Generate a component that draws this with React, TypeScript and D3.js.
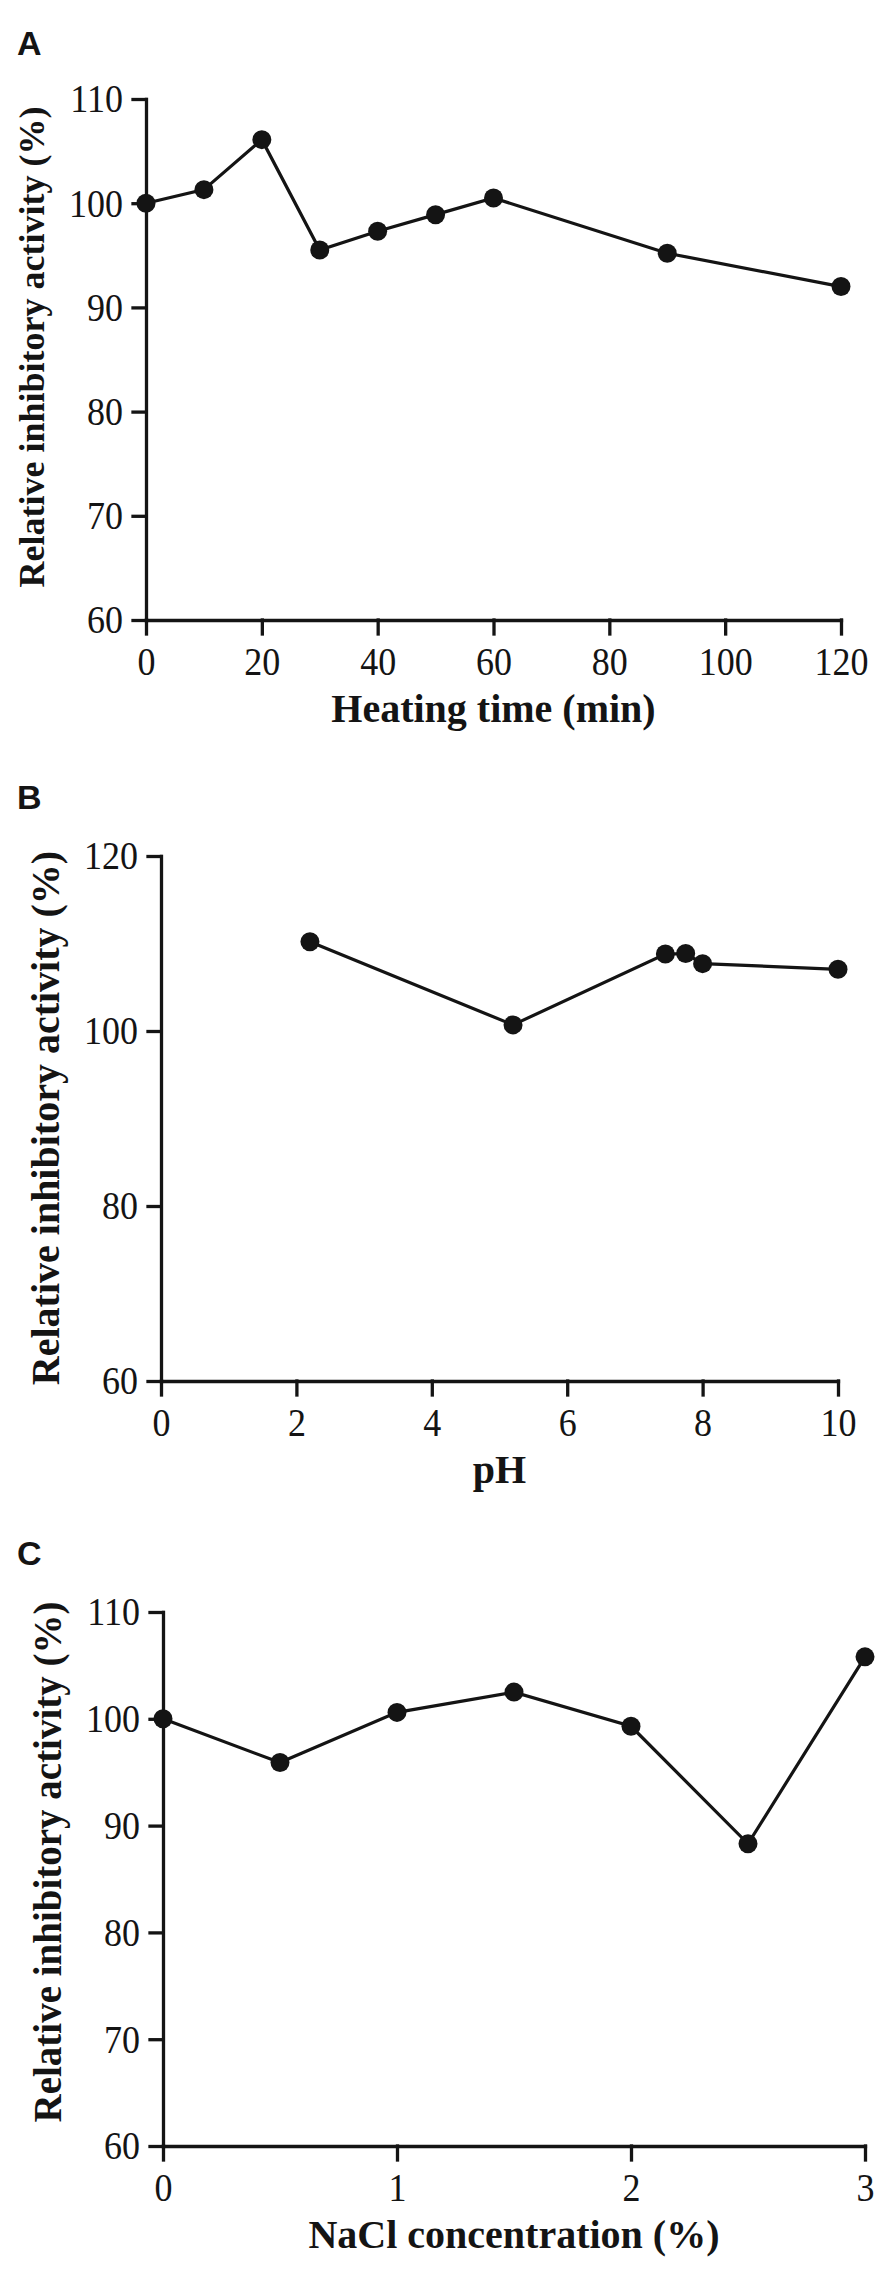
import React, { useRef, useEffect } from "react";
import * as d3 from "d3";

// Panel A: heat stability
const heatingTime = [0, 10, 20, 30, 40, 50, 60, 90, 120];
const heatingActivity = [100, 101.3, 106.1, 95.5, 97.3, 98.9, 100.5, 95.2, 92.0];
const heatingTicksX = [0, 20, 40, 60, 80, 100, 120];
const heatingTicksY = [60, 70, 80, 90, 100, 110];

// Panel B: pH stability
const phValues = [2.2, 5.2, 7.45, 7.75, 8, 10];
const phActivity = [110.2, 100.7, 108.8, 108.85, 107.7, 107.05];
const phTicksX = [0, 2, 4, 6, 8, 10];
const phTicksY = [60, 80, 100, 120];

// Panel C: NaCl stability
const naclConc = [0, 0.5, 1, 1.5, 2, 2.5, 3];
const naclActivity = [100, 95.9, 100.6, 102.5, 99.3, 88.3, 105.8];
const naclTicksX = [0, 1, 2, 3];
const naclTicksY = [60, 70, 80, 90, 100, 110];

const yTitle = "Relative inhibitory activity (%)";
const INK = "#141414";
const SERIF = "'Liberation Serif', 'Times New Roman', serif";
const SQUEEZE = 0.9; // tick digits in the original are a little condensed

type Box = { left: number; right: number; top: number; bottom: number };

type PanelProps = {
    letter: string;
    letterY: number;
    xs: number[];
    ys: number[];
    xTicks: number[];
    yTicks: number[];
    xLabel: string;
    box: Box;
    yTitleSize: number;
    yTitleMid: number;
};

const Panel = ({ letter, letterY, xs, ys, xTicks, yTicks, xLabel, box, yTitleSize, yTitleMid }: PanelProps) => {
    const gRef = useRef<SVGGElement>(null);

    useEffect(() => {
        if (!gRef.current) return;
        const g = d3.select(gRef.current);
        g.selectAll("*").remove();

        const x = d3
            .scaleLinear()
            .domain([xTicks[0], xTicks[xTicks.length - 1]])
            .range([box.left, box.right]);
        const y = d3
            .scaleLinear()
            .domain([yTicks[0], yTicks[yTicks.length - 1]])
            .range([box.bottom, box.top]);

        // panel letter
        g.append("text")
            .attr("x", 17)
            .attr("y", letterY)
            .style("font-family", "'Liberation Sans', Arial, sans-serif")
            .style("font-weight", "bold")
            .style("font-size", "34px")
            .style("fill", INK)
            .text(letter);

        // x axis
        const xg = g.append("g")
            .attr("transform", `translate(0,${box.bottom})`)
            .call(d3.axisBottom(x).tickValues(xTicks).tickSize(14).tickSizeOuter(0).tickPadding(13).tickFormat((d) => `${d}`));
        xg.selectAll(".tick text").attr("transform", `scale(${SQUEEZE},1)`);

        // y axis
        const yg = g.append("g")
            .attr("transform", `translate(${box.left},0)`)
            .call(d3.axisLeft(y).tickValues(yTicks).tickSize(13).tickSizeOuter(0).tickPadding(10).tickFormat((d) => `${d}`));
        yg.selectAll(".tick text")
            .attr("x", -23 / SQUEEZE)
            .attr("transform", `scale(${SQUEEZE},1)`);

        g.selectAll(".domain, .tick line")
            .attr("stroke", INK)
            .attr("stroke-width", 3.3)
            .attr("stroke-linecap", "square");

        g.selectAll(".tick text")
            .attr("fill", INK)
            .style("font-family", SERIF)
            .style("font-size", "40px");

        // data line
        const line = d3
            .line<number>()
            .x((_, i) => x(xs[i]))
            .y((d) => y(d));

        g.append("path")
            .datum(ys)
            .attr("d", line)
            .attr("fill", "none")
            .attr("stroke", INK)
            .attr("stroke-width", 3.2);

        g.selectAll(".pt")
            .data(ys)
            .enter()
            .append("circle")
            .attr("class", "pt")
            .attr("cx", (_, i) => x(xs[i]))
            .attr("cy", (d) => y(d))
            .attr("r", 9.5)
            .attr("fill", INK);

        // axis titles
        g.append("text")
            .attr("x", (box.left + box.right) / 2)
            .attr("y", box.bottom + 102)
            .style("text-anchor", "middle")
            .style("font-family", SERIF)
            .style("font-weight", "bold")
            .style("font-size", "40px")
            .style("fill", INK)
            .text(xLabel);

        g.append("text")
            .attr("transform", `translate(${box.left - 102},${yTitleMid}) rotate(-90)`)
            .style("text-anchor", "middle")
            .style("font-family", SERIF)
            .style("font-weight", "bold")
            .style("font-size", `${yTitleSize}px`)
            .style("fill", INK)
            .text(yTitle);
    }, [xs, ys]);

    return <g ref={gRef} />;
};

const App = () => {
    return (
        <svg
            width={892}
            height={2269}
            style={{ position: "absolute", left: 0, top: 0, background: "#fff" }}
        >
            <Panel
                letter="A"
                letterY={55}
                xs={heatingTime}
                ys={heatingActivity}
                xTicks={heatingTicksX}
                yTicks={heatingTicksY}
                xLabel="Heating time (min)"
                box={{ left: 146, right: 841, top: 99, bottom: 620 }}
                yTitleSize={36}
                yTitleMid={347}
            />
            <Panel
                letter="B"
                letterY={809}
                xs={phValues}
                ys={phActivity}
                xTicks={phTicksX}
                yTicks={phTicksY}
                xLabel="pH"
                box={{ left: 161, right: 838, top: 856, bottom: 1381 }}
                yTitleSize={40}
                yTitleMid={1118}
            />
            <Panel
                letter="C"
                letterY={1565}
                xs={naclConc}
                ys={naclActivity}
                xTicks={naclTicksX}
                yTicks={naclTicksY}
                xLabel="NaCl concentration (%)"
                box={{ left: 163, right: 865, top: 1612, bottom: 2146 }}
                yTitleSize={39}
                yTitleMid={1862}
            />
        </svg>
    );
};

export default App;
